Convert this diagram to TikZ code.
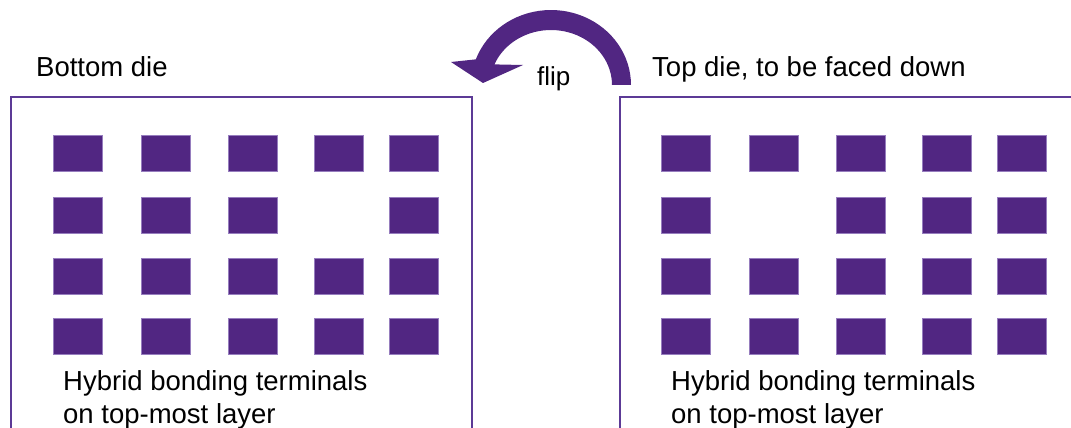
\documentclass[tikz,border=0pt]{standalone}
\usepackage{fontspec}
\setmainfont{Liberation Sans}
\definecolor{pur}{RGB}{81,38,130}
\definecolor{purline}{RGB}{92,58,150}
\definecolor{puredge}{RGB}{150,125,190}
\tikzset{
  pad/.style={rectangle, fill=pur, draw=puredge, line width=0.5pt, minimum width=49pt, minimum height=36pt, inner sep=0pt, anchor=north west},
  die/.style={draw=purline, line width=2.2pt},
  lbl/.style={inner sep=0pt, anchor=base west, font=\fontsize{27.5}{33}\selectfont, align=left},
}
\begin{document}
\begin{tikzpicture}[x=1pt,y=-1pt]
\useasboundingbox (0,0) rectangle (1071,428);
% dies
\draw[die] (11,440) -- (11,97) -- (472,97) -- (472,440);
\draw[die] (620,440) -- (620,97) -- (1080,97);
% pads
\foreach \r/\y in {1/135,2/197,3/258,4/318}{
  \foreach \c/\x in {1/53,2/141,3/228,4/314,5/389}{
    \ifnum\r=2 \ifnum\c=4 \else \node[pad] (L\r\c) at (\x,\y) {}; \fi
    \else \node[pad] (L\r\c) at (\x,\y) {}; \fi
  }
  \foreach \c/\x in {1/661,2/749,3/836,4/922,5/997}{
    \ifnum\r=2 \ifnum\c=2 \else \node[pad] (R\r\c) at (\x,\y) {}; \fi
    \else \node[pad] (R\r\c) at (\x,\y) {}; \fi
  }
}
% labels
\node[lbl] (tb) at (36,77) {Bottom die};
\node[lbl] (tt) at (652,77) {Top die, to be faced down};
\node[lbl] (hb) at (63,423) {Hybrid bonding terminals\\on top-most layer};
\node[lbl] (ht) at (671,423) {Hybrid bonding terminals\\on top-most layer};
\node[lbl, font=\fontsize{26}{30}\selectfont] (flip) at (537,85) {flip};
% flip arrow
\fill[pur] plot[domain=0:-160, samples=40] ({551+80*cos(\x)}, {85+75*sin(\x)})
  -- (451,62) -- (483,83) -- (523,65)
  -- plot[domain=-158:0, samples=40] ({551+61*cos(\x)}, {85+55*sin(\x)}) -- cycle;
\end{tikzpicture}
\end{document}
